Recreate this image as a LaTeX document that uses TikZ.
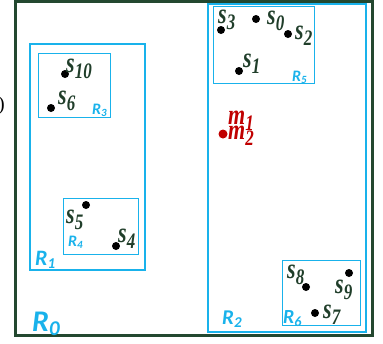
\documentclass[tikz,border=0pt]{standalone}
\usepackage{fontspec}
\usepackage{graphicx}
\setmainfont{Liberation Serif}
\newfontfamily\rfont{Carlito}
\definecolor{rcyan}{RGB}{25,178,235}
\definecolor{framegreen}{RGB}{35,72,48}
\definecolor{labgreen}{RGB}{32,62,42}
\definecolor{mred}{RGB}{192,0,0}
\newcommand\slab[2]{\scalebox{1}[1.3]{#1\raisebox{-0.22em}{\fontsize{17}{17}\selectfont #2}}}
\newcommand\rlabtxt[3]{\fontsize{#3}{#3}\selectfont #1\raisebox{-0.15em}{\fontsize{\numexpr #3*7/10\relax}{#3}\selectfont #2}}
\tikzset{
  outerbox/.style={draw=framegreen, line width=3pt},
  bigbox/.style={draw=rcyan, line width=2pt},
  smallbox/.style={draw=rcyan, line width=1pt},
  pt/.style={circle, fill=black, inner sep=0pt, minimum size=8pt},
  mpt/.style={circle, fill=mred, inner sep=0pt, minimum size=9pt},
  lab/.style={anchor=base west, inner sep=0pt, text=labgreen, font=\fontsize{22}{22}\selectfont\bfseries\itshape},
  mlab/.style={anchor=base west, inner sep=0pt, text=mred, font=\fontsize{22}{22}\selectfont\bfseries\itshape},
  rlab/.style={anchor=base west, inner sep=0pt, text=rcyan, font=\rfont\bfseries\itshape},
}
\begin{document}
\begin{tikzpicture}[x=1pt,y=-1pt]
\useasboundingbox (0,0) rectangle (383,343);
% outer frame R0
\draw[outerbox] (15,1.5) rectangle (372,335.5);
% big regions
\draw[bigbox] (30,44) rectangle (145,270);
\draw[bigbox] (208,4) rectangle (366,332);
% small regions
\draw[smallbox] (38,53) rectangle (110,117);
\draw[smallbox] (63,198) rectangle (138,254);
\draw[smallbox] (213,6) rectangle (314,83);
\draw[smallbox] (282,260) rectangle (360,325);
% cropped text at left edge
\node[anchor=base east, inner sep=0pt, font=\fontsize{20}{20}\selectfont] (paren) at (5,110) {)};
% points
\node[pt] (p10) at (65,74) {};
\node[pt] (p6) at (51,108) {};
\node[pt] (p3) at (221,30) {};
\node[pt] (p0) at (256,19) {};
\node[pt] (p2) at (288,34) {};
\node[pt] (p1) at (239,71) {};
\node[pt] (p5) at (86,205) {};
\node[pt] (p4) at (116,246) {};
\node[pt] (p8) at (306,287) {};
\node[pt] (p9) at (349,273) {};
\node[pt] (p7) at (315,313) {};
\node[mpt] (pm) at (223,134) {};
% point labels
\node[lab] (l10) at (66,72) {\slab{s}{10}};
\node[lab] (l6) at (58,104) {\slab{s}{6}};
\node[lab] (l3) at (218,23) {\slab{s}{3}};
\node[lab] (l0) at (267,24) {\slab{s}{0}};
\node[lab] (l2) at (295,39) {\slab{s}{2}};
\node[lab] (l1) at (243,67) {\slab{s}{1}};
\node[lab] (l5) at (66,223) {\slab{s}{5}};
\node[lab] (l4) at (118,242) {\slab{s}{4}};
\node[lab] (l8) at (287,278) {\slab{s}{8}};
\node[lab] (l9) at (335,293) {\slab{s}{9}};
\node[lab] (l7) at (323,318) {\slab{s}{7}};
\node[mlab] (lm1) at (228,124) {\slab{m}{1}};
\node[mlab] (lm2) at (228,139) {\slab{m}{2}};
% region labels
\node[rlab] (r0) at (32,331) {\rlabtxt{R}{0}{30}};
\node[rlab] (r1) at (35,265) {\rlabtxt{R}{1}{22}};
\node[rlab] (r2) at (222,324) {\rlabtxt{R}{2}{21}};
\node[rlab] (r3) at (92,114) {\rlabtxt{R}{3}{16}};
\node[rlab] (r4) at (68,246) {\rlabtxt{R}{4}{16}};
\node[rlab] (r5) at (292,81) {\rlabtxt{R}{5}{16}};
\node[rlab] (r6) at (283,323) {\rlabtxt{R}{6}{20}};
\end{tikzpicture}
\end{document}
